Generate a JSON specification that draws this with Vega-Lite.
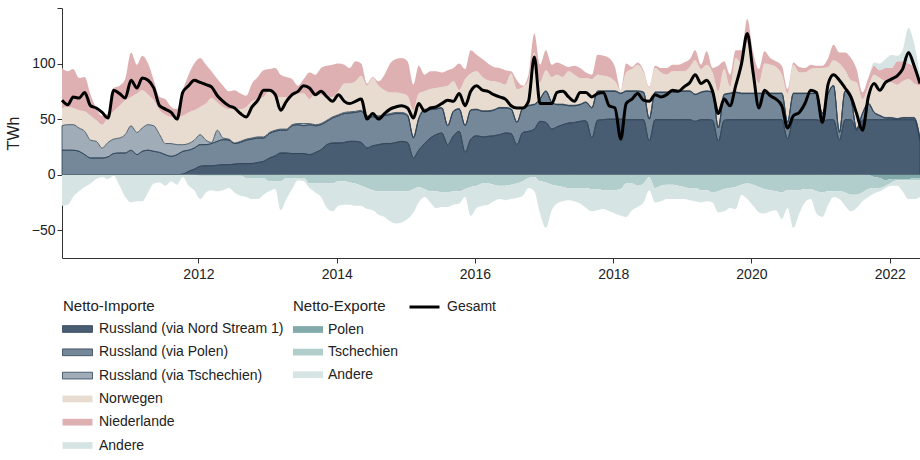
{
  "$schema": "https://vega.github.io/schema/vega-lite/v6.json",
  "width": 858,
  "height": 250,
  "autosize": "none",
  "padding": {"left": 62, "top": 8, "right": 0, "bottom": 202},
  "background": "white",
  "data": {
    "values": [
      {"d":"2010-01-10","a_ns":0,"b_pl":22,"c_cz":22,"d_no":16,"e_nl":36,"f_an":0,"g_pl":0,"h_cz":0,"i_an":-28,"gesamt":67},
      {"d":"2010-02-10","a_ns":0,"b_pl":22,"c_cz":23,"d_no":16,"e_nl":32,"f_an":0,"g_pl":0,"h_cz":0,"i_an":-27,"gesamt":63},
      {"d":"2010-03-10","a_ns":0,"b_pl":22,"c_cz":23,"d_no":15,"e_nl":35,"f_an":0,"g_pl":0,"h_cz":0,"i_an":-20,"gesamt":70},
      {"d":"2010-04-10","a_ns":0,"b_pl":21,"c_cz":21,"d_no":16,"e_nl":29,"f_an":0,"g_pl":0,"h_cz":0,"i_an":-15,"gesamt":69},
      {"d":"2010-05-10","a_ns":0,"b_pl":18,"c_cz":21,"d_no":18,"e_nl":31,"f_an":0,"g_pl":0,"h_cz":0,"i_an":-11,"gesamt":74},
      {"d":"2010-06-10","a_ns":0,"b_pl":15,"c_cz":16,"d_no":22,"e_nl":19,"f_an":0,"g_pl":0,"h_cz":0,"i_an":-8,"gesamt":62},
      {"d":"2010-07-10","a_ns":0,"b_pl":15,"c_cz":15,"d_no":19,"e_nl":11,"f_an":0,"g_pl":0,"h_cz":0,"i_an":-4,"gesamt":60},
      {"d":"2010-08-10","a_ns":0,"b_pl":15,"c_cz":9,"d_no":21,"e_nl":8,"f_an":0,"g_pl":0,"h_cz":0,"i_an":-2,"gesamt":56},
      {"d":"2010-09-10","a_ns":0,"b_pl":16,"c_cz":13,"d_no":23,"e_nl":3,"f_an":0,"g_pl":0,"h_cz":0,"i_an":-4,"gesamt":51},
      {"d":"2010-10-10","a_ns":0,"b_pl":19,"c_cz":13,"d_no":25,"e_nl":21,"f_an":0,"g_pl":0,"h_cz":0,"i_an":-1,"gesamt":76},
      {"d":"2010-11-10","a_ns":0,"b_pl":19.5,"c_cz":13.5,"d_no":29,"e_nl":18,"f_an":0,"g_pl":0,"h_cz":0,"i_an":-10,"gesamt":73},
      {"d":"2010-12-10","a_ns":0,"b_pl":19.5,"c_cz":16.5,"d_no":31,"e_nl":19,"f_an":0,"g_pl":0,"h_cz":0,"i_an":-20,"gesamt":69},
      {"d":"2011-01-10","a_ns":0,"b_pl":22,"c_cz":22,"d_no":26,"e_nl":40,"f_an":0,"g_pl":0,"h_cz":0,"i_an":-25,"gesamt":85},
      {"d":"2011-02-10","a_ns":0,"b_pl":18,"c_cz":20,"d_no":35,"e_nl":26,"f_an":0,"g_pl":0,"h_cz":0,"i_an":-24,"gesamt":78},
      {"d":"2011-03-10","a_ns":0,"b_pl":21,"c_cz":21,"d_no":34,"e_nl":31,"f_an":0,"g_pl":0,"h_cz":0,"i_an":-24,"gesamt":87},
      {"d":"2011-04-10","a_ns":0,"b_pl":22,"c_cz":23,"d_no":27,"e_nl":28,"f_an":0,"g_pl":0,"h_cz":0,"i_an":-16,"gesamt":85},
      {"d":"2011-05-10","a_ns":0,"b_pl":21,"c_cz":23,"d_no":23,"e_nl":18,"f_an":0,"g_pl":0,"h_cz":0,"i_an":-8,"gesamt":78},
      {"d":"2011-06-10","a_ns":0,"b_pl":20,"c_cz":16,"d_no":22,"e_nl":12,"f_an":0,"g_pl":0,"h_cz":0,"i_an":-7,"gesamt":62},
      {"d":"2011-07-10","a_ns":0,"b_pl":18,"c_cz":10,"d_no":26,"e_nl":14,"f_an":0,"g_pl":0,"h_cz":0,"i_an":-10,"gesamt":59},
      {"d":"2011-08-10","a_ns":0,"b_pl":16.5,"c_cz":11.5,"d_no":24,"e_nl":9,"f_an":0,"g_pl":0,"h_cz":0,"i_an":-6,"gesamt":56},
      {"d":"2011-09-10","a_ns":0,"b_pl":18,"c_cz":9,"d_no":25,"e_nl":7,"f_an":0,"g_pl":0,"h_cz":0,"i_an":-9,"gesamt":50},
      {"d":"2011-10-10","a_ns":0.5,"b_pl":20.5,"c_cz":6,"d_no":26,"e_nl":23,"f_an":0,"g_pl":0,"h_cz":0,"i_an":-2,"gesamt":74},
      {"d":"2011-11-10","a_ns":3,"b_pl":19,"c_cz":6,"d_no":28,"e_nl":34,"f_an":0,"g_pl":0,"h_cz":0,"i_an":-10,"gesamt":80},
      {"d":"2011-12-10","a_ns":5,"b_pl":19,"c_cz":7,"d_no":27,"e_nl":42,"f_an":0,"g_pl":0,"h_cz":0,"i_an":-14,"gesamt":85},
      {"d":"2012-01-10","a_ns":7.5,"b_pl":19.5,"c_cz":9,"d_no":25,"e_nl":44,"f_an":0,"g_pl":0,"h_cz":-1,"i_an":-21,"gesamt":83},
      {"d":"2012-02-10","a_ns":8,"b_pl":19,"c_cz":4,"d_no":33,"e_nl":35,"f_an":0,"g_pl":0,"h_cz":-1,"i_an":-15,"gesamt":81},
      {"d":"2012-03-10","a_ns":8,"b_pl":20,"c_cz":1,"d_no":40,"e_nl":24,"f_an":0,"g_pl":0,"h_cz":-1,"i_an":-13,"gesamt":79},
      {"d":"2012-04-10","a_ns":8.5,"b_pl":21.5,"c_cz":10,"d_no":25,"e_nl":21,"f_an":0,"g_pl":0,"h_cz":-1,"i_an":-14,"gesamt":71},
      {"d":"2012-05-10","a_ns":9,"b_pl":22.5,"c_cz":1.5,"d_no":28,"e_nl":19,"f_an":0,"g_pl":0,"h_cz":-1,"i_an":-13,"gesamt":66},
      {"d":"2012-06-10","a_ns":9,"b_pl":22,"c_cz":1,"d_no":27,"e_nl":16,"f_an":0,"g_pl":0,"h_cz":-1,"i_an":-11,"gesamt":62},
      {"d":"2012-07-10","a_ns":9.5,"b_pl":18.5,"c_cz":0.5,"d_no":31.5,"e_nl":16,"f_an":0,"g_pl":0,"h_cz":-1,"i_an":-15,"gesamt":60},
      {"d":"2012-08-10","a_ns":10,"b_pl":19,"c_cz":1,"d_no":29,"e_nl":14,"f_an":0,"g_pl":0,"h_cz":-1,"i_an":-18,"gesamt":55},
      {"d":"2012-09-10","a_ns":10,"b_pl":21,"c_cz":1,"d_no":29,"e_nl":10,"f_an":0,"g_pl":0,"h_cz":-3,"i_an":-17,"gesamt":52},
      {"d":"2012-10-10","a_ns":10,"b_pl":22,"c_cz":1,"d_no":33,"e_nl":16,"f_an":0,"g_pl":0,"h_cz":-3,"i_an":-19,"gesamt":61},
      {"d":"2012-11-10","a_ns":11,"b_pl":22,"c_cz":1,"d_no":34,"e_nl":20,"f_an":0,"g_pl":0,"h_cz":-3,"i_an":-19,"gesamt":67},
      {"d":"2012-12-10","a_ns":12,"b_pl":21,"c_cz":1,"d_no":36,"e_nl":24,"f_an":0,"g_pl":0,"h_cz":-3,"i_an":-15,"gesamt":76},
      {"d":"2013-01-10","a_ns":15,"b_pl":22,"c_cz":1,"d_no":37,"e_nl":20,"f_an":0,"g_pl":0,"h_cz":-6,"i_an":-9,"gesamt":76},
      {"d":"2013-02-10","a_ns":17,"b_pl":22,"c_cz":1,"d_no":30,"e_nl":26,"f_an":0,"g_pl":0,"h_cz":-6,"i_an":-7,"gesamt":72},
      {"d":"2013-03-10","a_ns":19.5,"b_pl":20.5,"c_cz":1,"d_no":29,"e_nl":20,"f_an":0,"g_pl":0,"h_cz":-6,"i_an":-26,"gesamt":58},
      {"d":"2013-04-10","a_ns":19.5,"b_pl":20.5,"c_cz":1,"d_no":29,"e_nl":18,"f_an":0,"g_pl":0,"h_cz":-3,"i_an":-19,"gesamt":66},
      {"d":"2013-05-10","a_ns":19,"b_pl":25,"c_cz":1,"d_no":25,"e_nl":16,"f_an":0,"g_pl":0,"h_cz":-3,"i_an":-10,"gesamt":72},
      {"d":"2013-06-10","a_ns":19,"b_pl":26,"c_cz":1,"d_no":27,"e_nl":7,"f_an":0,"g_pl":0,"h_cz":-3,"i_an":-2,"gesamt":75},
      {"d":"2013-07-10","a_ns":19,"b_pl":25,"c_cz":2,"d_no":27,"e_nl":13,"f_an":0,"g_pl":0,"h_cz":-3,"i_an":-3,"gesamt":80},
      {"d":"2013-08-10","a_ns":18,"b_pl":27,"c_cz":1,"d_no":22,"e_nl":24,"f_an":0,"g_pl":0,"h_cz":-8,"i_an":-4,"gesamt":78},
      {"d":"2013-09-10","a_ns":20,"b_pl":24,"c_cz":1,"d_no":28,"e_nl":17,"f_an":0,"g_pl":0,"h_cz":-8,"i_an":-8,"gesamt":72},
      {"d":"2013-10-10","a_ns":22.5,"b_pl":22.5,"c_cz":1,"d_no":26,"e_nl":24,"f_an":0,"g_pl":0,"h_cz":-8,"i_an":-12,"gesamt":75},
      {"d":"2013-11-10","a_ns":27,"b_pl":21,"c_cz":1,"d_no":21,"e_nl":28,"f_an":0,"g_pl":0,"h_cz":-8,"i_an":-22,"gesamt":70},
      {"d":"2013-12-10","a_ns":28.5,"b_pl":22.5,"c_cz":1,"d_no":18,"e_nl":29,"f_an":0,"g_pl":0,"h_cz":-8,"i_an":-25,"gesamt":66},
      {"d":"2014-01-10","a_ns":28.5,"b_pl":24.5,"c_cz":1,"d_no":21,"e_nl":25,"f_an":0,"g_pl":0,"h_cz":-6,"i_an":-22,"gesamt":72},
      {"d":"2014-02-10","a_ns":29,"b_pl":26,"c_cz":1,"d_no":26,"e_nl":17,"f_an":0,"g_pl":0,"h_cz":-6,"i_an":-21,"gesamt":66},
      {"d":"2014-03-10","a_ns":30,"b_pl":25.5,"c_cz":1,"d_no":25.5,"e_nl":14,"f_an":0,"g_pl":0,"h_cz":-7,"i_an":-20,"gesamt":64},
      {"d":"2014-04-10","a_ns":30,"b_pl":26,"c_cz":1,"d_no":27,"e_nl":18,"f_an":0,"g_pl":0,"h_cz":-8,"i_an":-20,"gesamt":66},
      {"d":"2014-05-10","a_ns":29,"b_pl":28,"c_cz":1,"d_no":31,"e_nl":11,"f_an":0,"g_pl":0,"h_cz":-10,"i_an":-18,"gesamt":68},
      {"d":"2014-06-10","a_ns":24,"b_pl":28,"c_cz":1,"d_no":27,"e_nl":2,"f_an":0,"g_pl":0,"h_cz":-12,"i_an":-19,"gesamt":50},
      {"d":"2014-07-10","a_ns":26,"b_pl":26,"c_cz":1,"d_no":34,"e_nl":1,"f_an":0,"g_pl":0,"h_cz":-14,"i_an":-18,"gesamt":55},
      {"d":"2014-08-10","a_ns":27,"b_pl":25,"c_cz":1,"d_no":27,"e_nl":4,"f_an":0,"g_pl":0,"h_cz":-15,"i_an":-21,"gesamt":50},
      {"d":"2014-09-10","a_ns":28,"b_pl":25,"c_cz":1,"d_no":22,"e_nl":14,"f_an":0,"g_pl":0,"h_cz":-15,"i_an":-23,"gesamt":55},
      {"d":"2014-10-10","a_ns":28,"b_pl":26,"c_cz":1,"d_no":19,"e_nl":26,"f_an":0,"g_pl":0,"h_cz":-15,"i_an":-27,"gesamt":59},
      {"d":"2014-11-10","a_ns":29,"b_pl":26,"c_cz":1,"d_no":18,"e_nl":30,"f_an":0,"g_pl":0,"h_cz":-15,"i_an":-29,"gesamt":61},
      {"d":"2014-12-10","a_ns":30,"b_pl":25,"c_cz":1,"d_no":17,"e_nl":32,"f_an":0,"g_pl":0,"h_cz":-15,"i_an":-28,"gesamt":62},
      {"d":"2015-01-10","a_ns":29,"b_pl":24,"c_cz":1,"d_no":17,"e_nl":31,"f_an":0,"g_pl":0,"h_cz":-15,"i_an":-25,"gesamt":60},
      {"d":"2015-02-10","a_ns":15,"b_pl":18,"c_cz":1,"d_no":24,"e_nl":23,"f_an":0,"g_pl":0,"h_cz":-13,"i_an":-21,"gesamt":51},
      {"d":"2015-03-10","a_ns":22,"b_pl":28,"c_cz":1,"d_no":22,"e_nl":25,"f_an":0,"g_pl":0,"h_cz":-11,"i_an":-14,"gesamt":64},
      {"d":"2015-04-10","a_ns":28,"b_pl":30,"c_cz":1,"d_no":16,"e_nl":15,"f_an":0,"g_pl":0,"h_cz":-13,"i_an":-7,"gesamt":57},
      {"d":"2015-05-10","a_ns":33,"b_pl":25.5,"c_cz":0.5,"d_no":18,"e_nl":16,"f_an":0,"g_pl":0,"h_cz":-15,"i_an":-10,"gesamt":60},
      {"d":"2015-06-10","a_ns":36,"b_pl":23,"c_cz":0.5,"d_no":18.5,"e_nl":15,"f_an":0,"g_pl":0,"h_cz":-15,"i_an":-15,"gesamt":61},
      {"d":"2015-07-10","a_ns":37.5,"b_pl":22.5,"c_cz":0.5,"d_no":18.5,"e_nl":13,"f_an":0,"g_pl":0,"h_cz":-16,"i_an":-13,"gesamt":64},
      {"d":"2015-08-10","a_ns":27,"b_pl":17,"c_cz":0.5,"d_no":35.5,"e_nl":14,"f_an":0,"g_pl":0,"h_cz":-16,"i_an":-13,"gesamt":67},
      {"d":"2015-09-10","a_ns":35,"b_pl":22,"c_cz":0.5,"d_no":26.5,"e_nl":12,"f_an":0,"g_pl":0,"h_cz":-15,"i_an":-12,"gesamt":66},
      {"d":"2015-10-10","a_ns":39,"b_pl":20,"c_cz":0.5,"d_no":16.5,"e_nl":24,"f_an":0,"g_pl":0,"h_cz":-15,"i_an":-11,"gesamt":73},
      {"d":"2015-11-10","a_ns":20,"b_pl":24,"c_cz":0.5,"d_no":41.5,"e_nl":9,"f_an":0,"g_pl":0,"h_cz":-13,"i_an":-7,"gesamt":62},
      {"d":"2015-12-10","a_ns":32,"b_pl":26,"c_cz":0.5,"d_no":32.5,"e_nl":21,"f_an":0,"g_pl":0,"h_cz":-11,"i_an":-26,"gesamt":75},
      {"d":"2016-01-10","a_ns":35,"b_pl":23.5,"c_cz":0.5,"d_no":34,"e_nl":15,"f_an":0,"g_pl":0,"h_cz":-10,"i_an":-20,"gesamt":80},
      {"d":"2016-02-10","a_ns":34,"b_pl":23,"c_cz":0.5,"d_no":30.5,"e_nl":16,"f_an":0,"g_pl":0,"h_cz":-8,"i_an":-20,"gesamt":76},
      {"d":"2016-03-10","a_ns":34.5,"b_pl":22.5,"c_cz":0.5,"d_no":27.5,"e_nl":15,"f_an":0,"g_pl":0,"h_cz":-8,"i_an":-19,"gesamt":75},
      {"d":"2016-04-10","a_ns":35,"b_pl":23,"c_cz":0.5,"d_no":25.5,"e_nl":13,"f_an":0,"g_pl":0,"h_cz":-9,"i_an":-15,"gesamt":72},
      {"d":"2016-05-10","a_ns":36,"b_pl":24,"c_cz":0.5,"d_no":22.5,"e_nl":13,"f_an":0,"g_pl":0,"h_cz":-10,"i_an":-12,"gesamt":70},
      {"d":"2016-06-10","a_ns":37.5,"b_pl":22.5,"c_cz":0.5,"d_no":20.5,"e_nl":13,"f_an":0,"g_pl":0,"h_cz":-10,"i_an":-13,"gesamt":68},
      {"d":"2016-07-10","a_ns":37,"b_pl":22,"c_cz":0.5,"d_no":31.5,"e_nl":2,"f_an":0,"g_pl":0,"h_cz":-9,"i_an":-13,"gesamt":62},
      {"d":"2016-08-10","a_ns":27,"b_pl":20,"c_cz":0.5,"d_no":29.5,"e_nl":8,"f_an":0,"g_pl":0,"h_cz":-8,"i_an":-13,"gesamt":60},
      {"d":"2016-09-10","a_ns":38,"b_pl":22,"c_cz":0.5,"d_no":18.5,"e_nl":1,"f_an":0,"g_pl":0,"h_cz":-6,"i_an":-13,"gesamt":60},
      {"d":"2016-10-10","a_ns":39,"b_pl":23,"c_cz":0.5,"d_no":22.5,"e_nl":5,"f_an":0,"g_pl":0,"h_cz":-3,"i_an":-9,"gesamt":66},
      {"d":"2016-11-10","a_ns":41,"b_pl":22,"c_cz":0.5,"d_no":46.5,"e_nl":17,"f_an":0,"g_pl":0,"h_cz":-2,"i_an":-13,"gesamt":106},
      {"d":"2016-12-10","a_ns":48,"b_pl":20,"c_cz":0.5,"d_no":14.5,"e_nl":16,"f_an":0,"g_pl":0,"h_cz":-6,"i_an":-29,"gesamt":64},
      {"d":"2017-01-10","a_ns":47,"b_pl":28,"c_cz":0.5,"d_no":18.5,"e_nl":18,"f_an":0,"g_pl":0,"h_cz":-7,"i_an":-41,"gesamt":64},
      {"d":"2017-02-10","a_ns":41,"b_pl":24,"c_cz":0.5,"d_no":22.5,"e_nl":11,"f_an":0,"g_pl":0,"h_cz":-9,"i_an":-23,"gesamt":64},
      {"d":"2017-03-10","a_ns":43,"b_pl":20,"c_cz":0.5,"d_no":26.5,"e_nl":11,"f_an":0,"g_pl":0,"h_cz":-10,"i_an":-16,"gesamt":74},
      {"d":"2017-04-10","a_ns":45,"b_pl":18,"c_cz":0.5,"d_no":24.5,"e_nl":11,"f_an":0,"g_pl":0,"h_cz":-11,"i_an":-13,"gesamt":75},
      {"d":"2017-05-10","a_ns":46.5,"b_pl":15.5,"c_cz":0.5,"d_no":30.5,"e_nl":4,"f_an":0,"g_pl":0,"h_cz":-12,"i_an":-11,"gesamt":70},
      {"d":"2017-06-10","a_ns":47,"b_pl":15,"c_cz":0.5,"d_no":27.5,"e_nl":8,"f_an":0,"g_pl":0,"h_cz":-12,"i_an":-12,"gesamt":66},
      {"d":"2017-07-10","a_ns":48,"b_pl":15,"c_cz":0.5,"d_no":23.5,"e_nl":9,"f_an":0,"g_pl":0,"h_cz":-12,"i_an":-14,"gesamt":74},
      {"d":"2017-08-10","a_ns":48.5,"b_pl":16.5,"c_cz":0.5,"d_no":21.5,"e_nl":5,"f_an":0,"g_pl":0,"h_cz":-12,"i_an":-18,"gesamt":74},
      {"d":"2017-09-10","a_ns":33,"b_pl":27,"c_cz":0.5,"d_no":25.5,"e_nl":4,"f_an":0,"g_pl":0,"h_cz":-13,"i_an":-20,"gesamt":70},
      {"d":"2017-10-10","a_ns":49,"b_pl":26,"c_cz":0.5,"d_no":14.5,"e_nl":18,"f_an":0,"g_pl":0,"h_cz":-13,"i_an":-19,"gesamt":73},
      {"d":"2017-11-10","a_ns":49.5,"b_pl":25.5,"c_cz":0.5,"d_no":13.5,"e_nl":18,"f_an":0,"g_pl":0,"h_cz":-14,"i_an":-17,"gesamt":74},
      {"d":"2017-12-10","a_ns":50,"b_pl":25,"c_cz":0.5,"d_no":12.5,"e_nl":17,"f_an":0,"g_pl":0,"h_cz":-14,"i_an":-19,"gesamt":62},
      {"d":"2018-01-10","a_ns":50,"b_pl":25,"c_cz":0.5,"d_no":8.5,"e_nl":13,"f_an":0,"g_pl":0,"h_cz":-14,"i_an":-21,"gesamt":60},
      {"d":"2018-02-10","a_ns":50,"b_pl":23,"c_cz":0.5,"d_no":2.5,"e_nl":0,"f_an":0,"g_pl":0,"h_cz":-13,"i_an":-24,"gesamt":32},
      {"d":"2018-03-10","a_ns":49.5,"b_pl":25.5,"c_cz":0.5,"d_no":16.5,"e_nl":8,"f_an":0,"g_pl":0,"h_cz":-8,"i_an":-30,"gesamt":64},
      {"d":"2018-04-10","a_ns":49.5,"b_pl":25.5,"c_cz":0.5,"d_no":19.5,"e_nl":2,"f_an":0,"g_pl":0,"h_cz":-8,"i_an":-24,"gesamt":68},
      {"d":"2018-05-10","a_ns":49.5,"b_pl":25.5,"c_cz":0.5,"d_no":23.5,"e_nl":2,"f_an":0,"g_pl":0,"h_cz":-10,"i_an":-19,"gesamt":73},
      {"d":"2018-06-10","a_ns":49.5,"b_pl":24.5,"c_cz":0.5,"d_no":17.5,"e_nl":2,"f_an":0,"g_pl":0,"h_cz":-8,"i_an":-17,"gesamt":67},
      {"d":"2018-07-10","a_ns":30,"b_pl":20,"c_cz":0.5,"d_no":27.5,"e_nl":1,"f_an":0,"g_pl":0,"h_cz":-2,"i_an":-12,"gesamt":66},
      {"d":"2018-08-10","a_ns":49.5,"b_pl":24.5,"c_cz":0.5,"d_no":21.5,"e_nl":2,"f_an":0,"g_pl":0,"h_cz":-12,"i_an":-13,"gesamt":72},
      {"d":"2018-09-10","a_ns":49.5,"b_pl":24.5,"c_cz":0.5,"d_no":17.5,"e_nl":4,"f_an":0,"g_pl":0,"h_cz":-10,"i_an":-14,"gesamt":70},
      {"d":"2018-10-10","a_ns":49.5,"b_pl":24.5,"c_cz":0.5,"d_no":15.5,"e_nl":6,"f_an":0,"g_pl":0,"h_cz":-9,"i_an":-13,"gesamt":72},
      {"d":"2018-11-10","a_ns":49.5,"b_pl":24.5,"c_cz":0.5,"d_no":18.5,"e_nl":6,"f_an":0,"g_pl":0,"h_cz":-9,"i_an":-13,"gesamt":76},
      {"d":"2018-12-10","a_ns":49.5,"b_pl":25.5,"c_cz":0.5,"d_no":17.5,"e_nl":6,"f_an":0,"g_pl":0,"h_cz":-10,"i_an":-12,"gesamt":75},
      {"d":"2019-01-10","a_ns":49.5,"b_pl":25.5,"c_cz":0.5,"d_no":17.5,"e_nl":8,"f_an":0,"g_pl":0,"h_cz":-11,"i_an":-11,"gesamt":79},
      {"d":"2019-02-10","a_ns":49.5,"b_pl":25.5,"c_cz":0.5,"d_no":21.5,"e_nl":7,"f_an":0,"g_pl":0,"h_cz":-12,"i_an":-11,"gesamt":83},
      {"d":"2019-03-10","a_ns":48,"b_pl":24,"c_cz":0.5,"d_no":30.5,"e_nl":9,"f_an":0,"g_pl":0,"h_cz":-12,"i_an":-12,"gesamt":90},
      {"d":"2019-04-10","a_ns":49.5,"b_pl":24.5,"c_cz":0.5,"d_no":20.5,"e_nl":4,"f_an":0,"g_pl":0,"h_cz":-14,"i_an":-11,"gesamt":82},
      {"d":"2019-05-10","a_ns":49.5,"b_pl":25.5,"c_cz":0.5,"d_no":23.5,"e_nl":12,"f_an":0,"g_pl":0,"h_cz":-14,"i_an":-10,"gesamt":85},
      {"d":"2019-06-10","a_ns":49,"b_pl":25,"c_cz":0.5,"d_no":17.5,"e_nl":4,"f_an":0,"g_pl":0,"h_cz":-16,"i_an":-9,"gesamt":75},
      {"d":"2019-07-10","a_ns":30,"b_pl":12,"c_cz":0.5,"d_no":32.5,"e_nl":23,"f_an":0,"g_pl":0,"h_cz":-15,"i_an":-19,"gesamt":55},
      {"d":"2019-08-10","a_ns":49,"b_pl":23,"c_cz":0.5,"d_no":22.5,"e_nl":7,"f_an":0,"g_pl":0,"h_cz":-13,"i_an":-20,"gesamt":68},
      {"d":"2019-09-10","a_ns":49.5,"b_pl":23.5,"c_cz":0.5,"d_no":5.5,"e_nl":11,"f_an":0,"g_pl":0,"h_cz":-12,"i_an":-18,"gesamt":62},
      {"d":"2019-10-10","a_ns":49.5,"b_pl":24.5,"c_cz":0.5,"d_no":30.5,"e_nl":7,"f_an":0,"g_pl":0,"h_cz":-11,"i_an":-20,"gesamt":80},
      {"d":"2019-11-10","a_ns":49.5,"b_pl":23.5,"c_cz":0.5,"d_no":26.5,"e_nl":12,"f_an":0,"g_pl":0,"h_cz":-9,"i_an":-9,"gesamt":100},
      {"d":"2019-12-10","a_ns":49.5,"b_pl":23.5,"c_cz":0.5,"d_no":45.5,"e_nl":21,"f_an":0,"g_pl":0,"h_cz":-8,"i_an":-14,"gesamt":127},
      {"d":"2020-01-10","a_ns":49.5,"b_pl":23.5,"c_cz":0.5,"d_no":22.5,"e_nl":14,"f_an":0,"g_pl":0,"h_cz":-9,"i_an":-19,"gesamt":92},
      {"d":"2020-02-10","a_ns":49.5,"b_pl":23.5,"c_cz":0.5,"d_no":8.5,"e_nl":13,"f_an":0,"g_pl":0,"h_cz":-11,"i_an":-23,"gesamt":60},
      {"d":"2020-03-10","a_ns":49.5,"b_pl":23.5,"c_cz":0.5,"d_no":26.5,"e_nl":11,"f_an":0,"g_pl":0,"h_cz":-13,"i_an":-22,"gesamt":76},
      {"d":"2020-04-10","a_ns":49.5,"b_pl":23.5,"c_cz":0.5,"d_no":25.5,"e_nl":6,"f_an":0,"g_pl":0,"h_cz":-14,"i_an":-19,"gesamt":71},
      {"d":"2020-05-10","a_ns":49.5,"b_pl":23.5,"c_cz":0.5,"d_no":23.5,"e_nl":5,"f_an":0,"g_pl":0,"h_cz":-15,"i_an":-17,"gesamt":68},
      {"d":"2020-06-10","a_ns":49.5,"b_pl":23.5,"c_cz":0.5,"d_no":16.5,"e_nl":8,"f_an":0,"g_pl":0,"h_cz":-16,"i_an":-24,"gesamt":62},
      {"d":"2020-07-10","a_ns":32,"b_pl":15,"c_cz":0.5,"d_no":25.5,"e_nl":4,"f_an":0,"g_pl":0,"h_cz":-14,"i_an":-16,"gesamt":42},
      {"d":"2020-08-10","a_ns":49.5,"b_pl":23.5,"c_cz":0.5,"d_no":25.5,"e_nl":2,"f_an":0,"g_pl":0,"h_cz":-14,"i_an":-34,"gesamt":53},
      {"d":"2020-09-10","a_ns":49.5,"b_pl":23.5,"c_cz":0.5,"d_no":18.5,"e_nl":5,"f_an":0,"g_pl":0,"h_cz":-14,"i_an":-21,"gesamt":56},
      {"d":"2020-10-10","a_ns":49.5,"b_pl":23.5,"c_cz":0.5,"d_no":18.5,"e_nl":4,"f_an":0,"g_pl":0,"h_cz":-13,"i_an":-12,"gesamt":64},
      {"d":"2020-11-10","a_ns":49.5,"b_pl":23.5,"c_cz":0.5,"d_no":21.5,"e_nl":4,"f_an":0,"g_pl":0,"h_cz":-13,"i_an":-9,"gesamt":76},
      {"d":"2020-12-10","a_ns":49.5,"b_pl":23.5,"c_cz":0.5,"d_no":22.5,"e_nl":2,"f_an":0,"g_pl":0,"h_cz":-15,"i_an":-20,"gesamt":74},
      {"d":"2021-01-10","a_ns":48,"b_pl":7,"c_cz":0.5,"d_no":40.5,"e_nl":2,"f_an":0,"g_pl":0,"h_cz":-16,"i_an":-22,"gesamt":47},
      {"d":"2021-02-10","a_ns":49.5,"b_pl":23.5,"c_cz":0.5,"d_no":23.5,"e_nl":8,"f_an":0,"g_pl":0,"h_cz":-15,"i_an":-12,"gesamt":82},
      {"d":"2021-03-10","a_ns":49.5,"b_pl":30.5,"c_cz":0.5,"d_no":22.5,"e_nl":14,"f_an":0,"g_pl":0,"h_cz":-15,"i_an":-5,"gesamt":90},
      {"d":"2021-04-10","a_ns":31,"b_pl":7,"c_cz":0.5,"d_no":61.5,"e_nl":10,"f_an":0,"g_pl":0,"h_cz":-15,"i_an":-7,"gesamt":85},
      {"d":"2021-05-10","a_ns":49.5,"b_pl":25.5,"c_cz":0.5,"d_no":18.5,"e_nl":16,"f_an":0,"g_pl":0,"h_cz":-16,"i_an":-12,"gesamt":78},
      {"d":"2021-06-10","a_ns":49.5,"b_pl":18.5,"c_cz":0.5,"d_no":16.5,"e_nl":20,"f_an":0,"g_pl":0,"h_cz":-18,"i_an":-15,"gesamt":70},
      {"d":"2021-07-10","a_ns":40,"b_pl":1,"c_cz":0.5,"d_no":41.5,"e_nl":12,"f_an":0,"g_pl":0,"h_cz":-18,"i_an":-12,"gesamt":55},
      {"d":"2021-08-10","a_ns":49,"b_pl":6,"c_cz":0.5,"d_no":12.5,"e_nl":6,"f_an":0,"g_pl":0,"h_cz":-16,"i_an":-8,"gesamt":40},
      {"d":"2021-09-10","a_ns":49.5,"b_pl":14.5,"c_cz":0.5,"d_no":14.5,"e_nl":8,"f_an":0,"g_pl":0,"h_cz":-13,"i_an":-7,"gesamt":70},
      {"d":"2021-10-10","a_ns":49.5,"b_pl":6.5,"c_cz":0.5,"d_no":33.5,"e_nl":8,"f_an":3,"g_pl":-2,"h_cz":-10,"i_an":-5,"gesamt":82},
      {"d":"2021-11-10","a_ns":49.5,"b_pl":3.5,"c_cz":0.5,"d_no":33.5,"e_nl":7,"f_an":6,"g_pl":-3,"h_cz":-9,"i_an":-3,"gesamt":76},
      {"d":"2021-12-10","a_ns":49.5,"b_pl":1.5,"c_cz":0.5,"d_no":32.5,"e_nl":12,"f_an":8,"g_pl":-5,"h_cz":-5,"i_an":-2,"gesamt":83},
      {"d":"2022-01-10","a_ns":49.5,"b_pl":1.5,"c_cz":0.5,"d_no":31.5,"e_nl":13,"f_an":12,"g_pl":-4,"h_cz":-3,"i_an":-3,"gesamt":86},
      {"d":"2022-02-10","a_ns":49.5,"b_pl":0.5,"c_cz":0.5,"d_no":30.5,"e_nl":21,"f_an":5,"g_pl":-4,"h_cz":-1,"i_an":-5,"gesamt":89},
      {"d":"2022-03-10","a_ns":49.5,"b_pl":1.5,"c_cz":0.5,"d_no":32.5,"e_nl":18,"f_an":10,"g_pl":-4,"h_cz":-1,"i_an":-10,"gesamt":95},
      {"d":"2022-04-10","a_ns":49.5,"b_pl":1.5,"c_cz":0.5,"d_no":34.5,"e_nl":14,"f_an":32,"g_pl":-4,"h_cz":-1,"i_an":-17,"gesamt":110},
      {"d":"2022-05-10","a_ns":49.5,"b_pl":1.5,"c_cz":0.5,"d_no":30.5,"e_nl":15,"f_an":21,"g_pl":-3,"h_cz":-2,"i_an":-17,"gesamt":98},
      {"d":"2022-06-10","a_ns":30,"b_pl":2,"c_cz":0.5,"d_no":47.5,"e_nl":5,"f_an":5,"g_pl":-3,"h_cz":-2,"i_an":-15,"gesamt":82}
    ]
  },
  "encoding": {
    "x": {
      "field": "d",
      "type": "temporal",
      "title": null,
      "scale": {
        "type": "utc",
        "domain": [
          {"year": 2010, "month": 1, "date": 10, "utc": true},
          {"year": 2022, "month": 6, "date": 10, "utc": true}
        ]
      },
      "axis": {
        "values": [
          {"year": 2012, "month": 1, "date": 1, "utc": true},
          {"year": 2014, "month": 1, "date": 1, "utc": true},
          {"year": 2016, "month": 1, "date": 1, "utc": true},
          {"year": 2018, "month": 1, "date": 1, "utc": true},
          {"year": 2020, "month": 1, "date": 1, "utc": true},
          {"year": 2022, "month": 1, "date": 1, "utc": true}
        ],
        "format": "%Y",
        "labelPadding": 4
      }
    }
  },
  "layer": [
    {
      "transform": [{"fold": ["a_ns", "b_pl", "c_cz", "d_no", "e_nl", "f_an"], "as": ["k", "v"]}],
      "mark": {"type": "area", "interpolate": "monotone"},
      "encoding": {
        "y": {
          "field": "v",
          "type": "quantitative",
          "stack": "zero",
          "title": "TWh",
          "scale": {"domain": [-75, 150], "nice": false},
          "axis": {
            "values": [-50, 0, 50, 100, 150],
            "labelExpr": "datum.value == 150 ? '' : datum.label",
            "titlePadding": 10
          }
        },
        "color": {
          "field": "k",
          "type": "nominal",
          "scale": {
            "domain": ["a_ns", "b_pl", "c_cz", "d_no", "e_nl", "f_an"],
            "range": ["#485c72", "#748899", "#a0adb8", "#e7dccf", "#deb0b2", "#d6e5e4"]
          },
          "legend": {
            "title": "Netto-Importe",
            "orient": "none",
            "legendX": 1,
            "legendY": 291,
            "direction": "vertical",
            "labelExpr": "{'a_ns': 'Russland (via Nord Stream 1)', 'b_pl': 'Russland (via Polen)', 'c_cz': 'Russland (via Tschechien)', 'd_no': 'Norwegen', 'e_nl': 'Niederlande', 'f_an': 'Andere'}[datum.value]",
            "symbolType": "M-1,-0.45H3V0.45H-1Z",
            "symbolSize": 225,
            "labelOffset": 22,
            "rowPadding": 9.3,
            "encode": {
              "symbols": {
                "update": {
                  "stroke": {"value": "#2e4257"},
                  "strokeWidth": {"signal": "datum.value <= 'c_cz' ? 0.8 : 0"}
                }
              }
            }
          }
        },
        "order": {"field": "k", "sort": "ascending"}
      }
    },
    {
      "transform": [{"fold": ["a_ns", "b_pl", "c_cz"], "as": ["k", "v"]}],
      "mark": {"type": "area", "interpolate": "monotone", "filled": false, "stroke": "#2e4257", "strokeWidth": 0.8},
      "encoding": {
        "y": {
          "field": "v",
          "type": "quantitative",
          "stack": "zero",
          "title": "TWh",
          "scale": {"domain": [-75, 150], "nice": false}
        },
        "detail": {"field": "k"},
        "order": {"field": "k", "sort": "ascending"}
      }
    },
    {
      "transform": [{"fold": ["g_pl", "h_cz", "i_an"], "as": ["k", "v"]}],
      "mark": {"type": "area", "interpolate": "monotone"},
      "encoding": {
        "y": {
          "field": "v",
          "type": "quantitative",
          "stack": "zero",
          "title": "TWh",
          "scale": {"domain": [-75, 150], "nice": false}
        },
        "color": {
          "field": "k",
          "type": "nominal",
          "scale": {
            "domain": ["g_pl", "h_cz", "i_an"],
            "range": ["#82aaaa", "#b1cdcc", "#d6e5e4"]
          },
          "legend": {
            "title": "Netto-Exporte",
            "orient": "none",
            "legendX": 231,
            "legendY": 291,
            "direction": "vertical",
            "labelExpr": "{'g_pl': 'Polen', 'h_cz': 'Tschechien', 'i_an': 'Andere'}[datum.value]",
            "symbolType": "M-1,-0.45H3V0.45H-1Z",
            "symbolSize": 225,
            "labelOffset": 20,
            "rowPadding": 7.6,
            "symbolStrokeWidth": 0
          }
        },
        "order": {"field": "k", "sort": "ascending"}
      }
    },
    {
      "transform": [{"fold": ["gesamt"], "as": ["k", "v"]}],
      "mark": {"type": "line", "interpolate": "monotone", "strokeWidth": 3},
      "encoding": {
        "y": {
          "field": "v",
          "type": "quantitative",
          "title": "TWh",
          "scale": {"domain": [-75, 150], "nice": false}
        },
        "color": {
          "field": "k",
          "type": "nominal",
          "scale": {"domain": ["gesamt"], "range": ["#000000"]},
          "legend": {
            "title": null,
            "orient": "none",
            "legendX": 346,
            "legendY": 290,
            "labelExpr": "'Gesamt'",
            "symbolType": "M-1,0H3",
            "symbolSize": 225,
            "labelOffset": 21,
            "symbolStrokeWidth": 3
          }
        }
      }
    }
  ],
  "resolve": {"scale": {"color": "independent"}, "legend": {"color": "independent"}},
  "config": {
    "font": "Liberation Sans",
    "view": {"stroke": null},
    "axis": {
      "domainColor": "#333333",
      "tickColor": "#333333",
      "labelColor": "#222222",
      "titleColor": "#222222",
      "labelFontSize": 14,
      "titleFontSize": 16,
      "titleFontWeight": "normal",
      "grid": false,
      "tickSize": 5
    },
    "legend": {
      "labelFontSize": 14,
      "titleFontSize": 15,
      "titleFontWeight": "normal",
      "labelColor": "#222222",
      "titleColor": "#222222",
      "rowPadding": 8,
      "titlePadding": 8,
      "labelLimit": 320
    }
  }
}
